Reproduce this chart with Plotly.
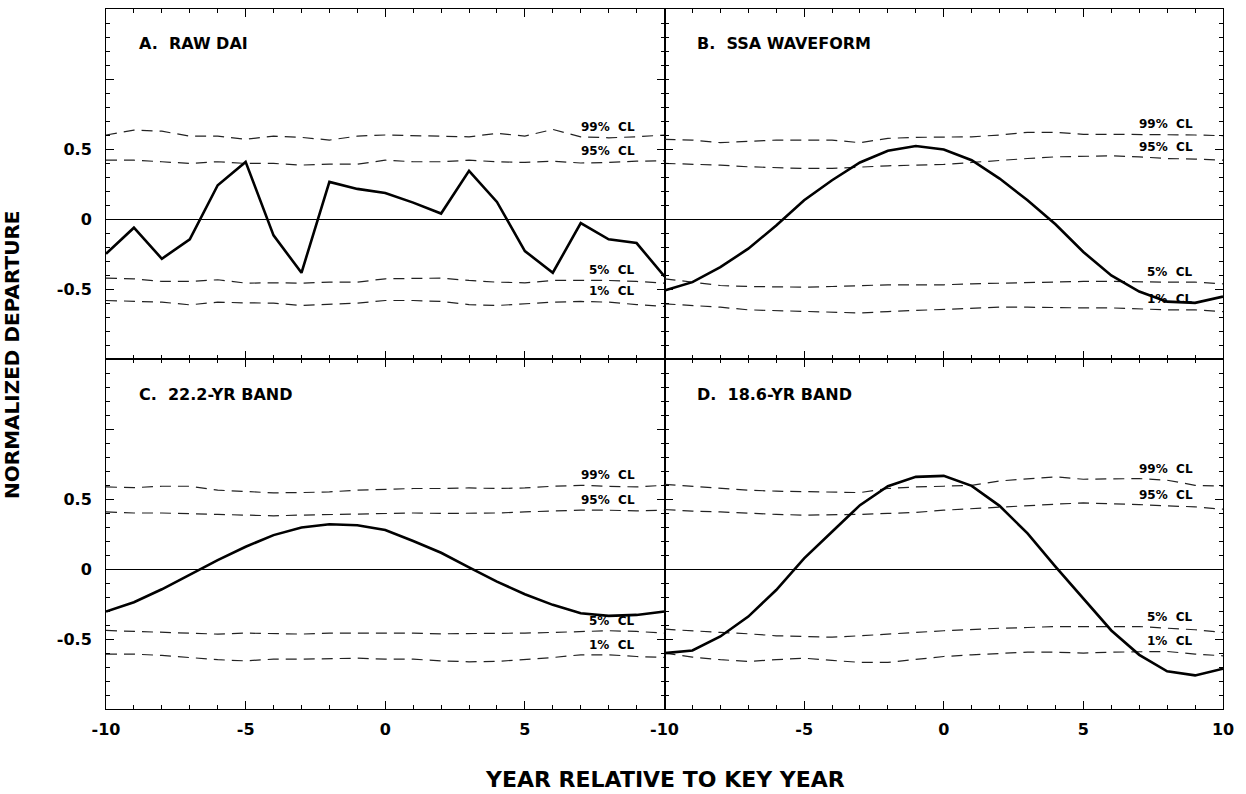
import plotly.graph_objects as go
from plotly.subplots import make_subplots

years = list(range(-10, 11))

# Panel A: raw DAI
raw_dai = [-0.248, -0.062, -0.284, -0.145, 0.241, 0.408, -0.117, -0.384, 0.265, 0.215, 0.186,
           0.117, 0.039, 0.344, 0.122, -0.229, -0.384, -0.029, -0.145, -0.172, -0.41]
a_cl99 = [0.60, 0.635, 0.627, 0.592, 0.592, 0.569, 0.592, 0.583, 0.564, 0.592, 0.60,
          0.595, 0.587, 0.587, 0.612, 0.592, 0.64, 0.587, 0.58, 0.587, 0.60]
a_cl95 = [0.42, 0.42, 0.409, 0.397, 0.409, 0.397, 0.397, 0.385, 0.392, 0.392, 0.42,
          0.409, 0.409, 0.42, 0.409, 0.404, 0.413, 0.40, 0.404, 0.413, 0.416]
a_cl5 = [-0.422, -0.427, -0.446, -0.446, -0.434, -0.458, -0.456, -0.458, -0.451, -0.451, -0.427,
         -0.422, -0.422, -0.439, -0.451, -0.456, -0.439, -0.439, -0.439, -0.446, -0.458]
a_cl1 = [-0.582, -0.589, -0.594, -0.613, -0.594, -0.599, -0.601, -0.618, -0.611, -0.601, -0.582,
         -0.582, -0.589, -0.611, -0.618, -0.606, -0.594, -0.589, -0.594, -0.611, -0.625]

# Panel B: SSA waveform
ssa = [-0.511, -0.451, -0.344, -0.212, -0.047, 0.134, 0.277, 0.404, 0.487, 0.521, 0.497,
       0.42, 0.289, 0.134, -0.038, -0.236, -0.403, -0.518, -0.59, -0.599, -0.554]
b_cl99 = [0.569, 0.564, 0.545, 0.557, 0.564, 0.564, 0.564, 0.545, 0.576, 0.583, 0.587,
          0.587, 0.60, 0.619, 0.619, 0.605, 0.605, 0.605, 0.605, 0.60, 0.595]
b_cl95 = [0.397, 0.392, 0.385, 0.373, 0.366, 0.361, 0.361, 0.373, 0.38, 0.385, 0.39,
          0.404, 0.42, 0.432, 0.444, 0.449, 0.451, 0.444, 0.432, 0.428, 0.42]
b_cl5 = [-0.427, -0.451, -0.475, -0.482, -0.487, -0.487, -0.482, -0.475, -0.47, -0.47, -0.47,
         -0.463, -0.458, -0.451, -0.451, -0.446, -0.446, -0.451, -0.451, -0.451, -0.463]
b_cl1 = [-0.606, -0.618, -0.63, -0.649, -0.654, -0.659, -0.666, -0.671, -0.661, -0.654, -0.642,
         -0.635, -0.63, -0.63, -0.635, -0.635, -0.635, -0.642, -0.649, -0.649, -0.661]

# Panel C: 22.2-yr band
band22 = [-0.304, -0.237, -0.145, -0.043, 0.064, 0.159, 0.242, 0.297, 0.32, 0.313, 0.278,
          0.20, 0.116, 0.012, -0.09, -0.18, -0.256, -0.316, -0.335, -0.328, -0.304]
c_cl99 = [0.586, 0.581, 0.591, 0.591, 0.563, 0.551, 0.544, 0.546, 0.551, 0.563, 0.57,
          0.575, 0.575, 0.579, 0.575, 0.579, 0.591, 0.598, 0.591, 0.586, 0.598]
c_cl95 = [0.408, 0.40, 0.40, 0.397, 0.39, 0.385, 0.38, 0.385, 0.39, 0.39, 0.40,
          0.40, 0.397, 0.397, 0.40, 0.408, 0.415, 0.42, 0.42, 0.415, 0.42]
c_cl5 = [-0.439, -0.446, -0.453, -0.458, -0.465, -0.458, -0.463, -0.465, -0.458, -0.458, -0.453,
         -0.458, -0.463, -0.463, -0.463, -0.458, -0.453, -0.446, -0.441, -0.446, -0.458]
c_cl1 = [-0.608, -0.608, -0.617, -0.632, -0.648, -0.656, -0.644, -0.644, -0.641, -0.637, -0.644,
         -0.644, -0.656, -0.663, -0.66, -0.648, -0.632, -0.613, -0.613, -0.625, -0.632]

# Panel D: 18.6-yr band
band186 = [-0.601, -0.582, -0.482, -0.34, -0.15, 0.076, 0.266, 0.456, 0.591, 0.658, 0.665,
           0.594, 0.451, 0.254, 0.017, -0.209, -0.439, -0.613, -0.731, -0.76, -0.712]
d_cl99 = [0.605, 0.591, 0.579, 0.563, 0.556, 0.551, 0.551, 0.546, 0.575, 0.586, 0.591,
          0.598, 0.629, 0.646, 0.658, 0.641, 0.646, 0.646, 0.634, 0.598, 0.591]
d_cl95 = [0.425, 0.413, 0.408, 0.397, 0.39, 0.385, 0.387, 0.39, 0.397, 0.404, 0.42,
          0.432, 0.444, 0.451, 0.463, 0.472, 0.468, 0.46, 0.451, 0.444, 0.427]
d_cl5 = [-0.43, -0.439, -0.453, -0.463, -0.477, -0.482, -0.487, -0.477, -0.463, -0.453, -0.441,
         -0.43, -0.423, -0.418, -0.411, -0.411, -0.411, -0.411, -0.423, -0.434, -0.453]
d_cl1 = [-0.601, -0.629, -0.648, -0.66, -0.648, -0.637, -0.653, -0.667, -0.667, -0.648, -0.625,
         -0.613, -0.601, -0.594, -0.594, -0.601, -0.594, -0.589, -0.589, -0.608, -0.62]

panel_titles = ["A.\u00a0\u00a0RAW DAI", "B.\u00a0\u00a0SSA WAVEFORM",
                "C.\u00a0\u00a022.2-YR BAND", "D.\u00a0\u00a018.6-YR BAND"]
cl_labels = ["99%\u00a0\u00a0CL", "95%\u00a0\u00a0CL", "5%\u00a0\u00a0CL", "1%\u00a0\u00a0CL"]
x_tick_vals = [-10, -5, 0, 5, 10]
x_tick_text_left = ["-10", "-5", "0", "5", ""]
x_tick_text_right = ["-10", "-5", "0", "5", "10"]
y_tick_vals = [-1.0, -0.5, 0, 0.5, 1.0, 1.5]
y_tick_text = ["", "-0.5", "0", "0.5", "", ""]

panels = [
    (1, 1, raw_dai, [a_cl99, a_cl95, a_cl5, a_cl1]),
    (1, 2, ssa, [b_cl99, b_cl95, b_cl5, b_cl1]),
    (2, 1, band22, [c_cl99, c_cl95, c_cl5, c_cl1]),
    (2, 2, band186, [d_cl99, d_cl95, d_cl5, d_cl1]),
]

FONT = "DejaVu Sans"
fig = make_subplots(rows=2, cols=2, horizontal_spacing=0, vertical_spacing=0)

for i, (r, c, main, cls) in enumerate(panels):
    for cl in cls:
        fig.add_trace(go.Scatter(x=years, y=cl, mode="lines",
                                 line=dict(color="#222222", width=1.2, dash="11px,7px"),
                                 hoverinfo="skip"), row=r, col=c)
    fig.add_trace(go.Scatter(x=years, y=main, mode="lines",
                             line=dict(color="black", width=2.6), hoverinfo="skip"),
                  row=r, col=c)
    idx = i + 1
    xref = "x" if idx == 1 else f"x{idx}"
    yref = "y" if idx == 1 else f"y{idx}"
    # panel title
    fig.add_annotation(text=panel_titles[i], xref=f"{xref} domain", yref=f"{yref} domain",
                       x=0.055, y=0.9, xanchor="left", yanchor="middle", showarrow=False,
                       font=dict(family=FONT, size=16, color="black", weight="bold"))
    # CL labels
    for lab, cl in zip(cl_labels, cls):
        yv = max(cl[17:20])
        fig.add_annotation(text=lab, xref=xref, yref=yref, x=9.0, y=yv,
                           xanchor="right", yanchor="middle", yshift=10, showarrow=False,
                           font=dict(family=FONT, size=12, color="black", weight="bold"))

axis_common = dict(showline=True, linecolor="black", linewidth=1, mirror="ticks",
                   ticks="inside", tickcolor="black", showgrid=False)

for r in (1, 2):
    for c in (1, 2):
        xtext = x_tick_text_left if c == 1 else x_tick_text_right
        fig.update_xaxes(range=[-10, 10], tickvals=x_tick_vals, ticktext=xtext,
                         ticklen=8, tickwidth=1.2, zeroline=False,
                         showticklabels=(r == 2), ticklabelstandoff=6,
                         minor=dict(dtick=1, tick0=0, ticks="inside", ticklen=4,
                                    tickcolor="black", tickwidth=1, showgrid=False),
                         tickfont=dict(family=FONT, size=16, color="black", weight="bold"),
                         row=r, col=c, **axis_common)
        fig.update_yaxes(range=[-1.0, 1.5], tickvals=y_tick_vals, ticktext=y_tick_text,
                         ticklen=8, tickwidth=1.2, zeroline=True, zerolinecolor="black",
                         zerolinewidth=1, showticklabels=(c == 1), ticklabelstandoff=10,
                         minor=dict(dtick=0.1, tick0=0, ticks="inside", ticklen=4,
                                    tickcolor="black", tickwidth=1, showgrid=False),
                         tickfont=dict(family=FONT, size=16, color="black", weight="bold"),
                         row=r, col=c, **axis_common)

fig.add_annotation(text="NORMALIZED DEPARTURE", xref="paper", yref="paper", x=0, y=0.5,
                   xshift=-94, yshift=4, textangle=-90, showarrow=False, xanchor="center",
                   yanchor="middle",
                   font=dict(family=FONT, size=20, color="black", weight="bold"))
fig.add_annotation(text="YEAR RELATIVE TO KEY YEAR", xref="paper", yref="paper", x=0.5, y=0,
                   yshift=-70, showarrow=False, xanchor="center", yanchor="middle",
                   font=dict(family=FONT, size=22, color="black", weight="bold"))

fig.update_layout(width=1246, height=794, showlegend=False,
                  margin=dict(l=106, r=23, t=9, b=85),
                  plot_bgcolor="white", paper_bgcolor="white",
                  font=dict(family=FONT, color="black"))

fig.write_html("out.html", config={"displayModeBar": False},
               post_script="document.body.style.margin='0px';")
